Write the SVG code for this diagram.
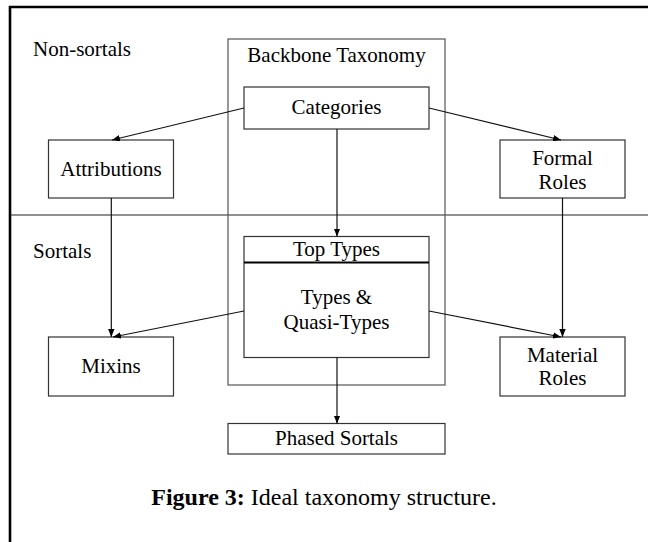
<svg xmlns="http://www.w3.org/2000/svg" width="648" height="542" viewBox="0 0 648 542">
<style>
text{font-family:"Liberation Serif","Times New Roman",serif;font-size:21px;fill:#000}
.c{text-anchor:middle}
.box{fill:none;stroke:#333;stroke-width:1.2}
.ln{fill:none;stroke:#222;stroke-width:1.2}
.arr{fill:none;stroke:#111;stroke-width:1.2;marker-end:url(#ah)}
</style>
<defs>
<marker id="ah" viewBox="0 0 10 8" refX="10" refY="4" markerWidth="8" markerHeight="6.4" markerUnits="userSpaceOnUse" orient="auto">
<path d="M0,0 L10,4 L0,8 Z" fill="#000"/>
</marker>
</defs>
<rect width="648" height="542" fill="#fff"/>
<path d="M10,542 V7 H648" fill="none" stroke="#000" stroke-width="2.6"/>
<line x1="10" y1="215" x2="648" y2="215" class="ln"/>
<text x="33" y="56">Non-sortals</text>
<text x="33" y="258">Sortals</text>
<g id="backbone">
<rect x="228" y="39" width="217" height="346" class="box" style="stroke:#555"/>
<text x="336.5" y="62" class="c">Backbone Taxonomy</text>
</g>
<g id="categories">
<rect x="244" y="87" width="185" height="42" class="box"/>
<text x="336.5" y="114" class="c">Categories</text>
</g>
<g id="attributions">
<rect x="48.5" y="140" width="125" height="58" class="box"/>
<text x="111" y="176" class="c">Attributions</text>
</g>
<g id="formal-roles">
<rect x="500" y="140" width="125" height="58" class="box"/>
<text x="562.5" y="165" class="c">Formal</text>
<text x="562.5" y="189" class="c">Roles</text>
</g>
<g id="top-types">
<rect x="244" y="236.5" width="185" height="121" class="box"/>
<line x1="244" y1="262.5" x2="429" y2="262.5" stroke="#000" stroke-width="2.2"/>
<text x="336.5" y="256" class="c">Top Types</text>
<text x="336.5" y="304" class="c">Types &amp;</text>
<text x="336.5" y="329" class="c">Quasi-Types</text>
</g>
<g id="mixins">
<rect x="48.5" y="337" width="125" height="59" class="box"/>
<text x="111" y="373" class="c">Mixins</text>
</g>
<g id="material-roles">
<rect x="500" y="337" width="125" height="59" class="box"/>
<text x="562.5" y="362" class="c">Material</text>
<text x="562.5" y="385" class="c">Roles</text>
</g>
<g id="phased-sortals">
<rect x="228" y="423.5" width="217" height="30.5" class="box"/>
<text x="336.5" y="444.5" class="c">Phased Sortals</text>
</g>
<g id="connectors">
<line x1="244" y1="108" x2="112" y2="140" class="arr"/>
<line x1="429" y1="108" x2="561" y2="140" class="arr"/>
<line x1="337" y1="129" x2="337" y2="236.5" class="arr"/>
<line x1="111.3" y1="198" x2="111.3" y2="337" class="arr"/>
<line x1="562.5" y1="198" x2="562.5" y2="337" class="arr"/>
<line x1="244" y1="311" x2="113" y2="337" class="arr"/>
<line x1="429" y1="311" x2="561" y2="337" class="arr"/>
<line x1="337" y1="357.5" x2="337" y2="423.5" class="arr"/>
</g>
<text x="324" y="505" class="c" style="font-size:24px"><tspan font-weight="bold">Figure 3:</tspan> Ideal taxonomy structure.</text>
</svg>
